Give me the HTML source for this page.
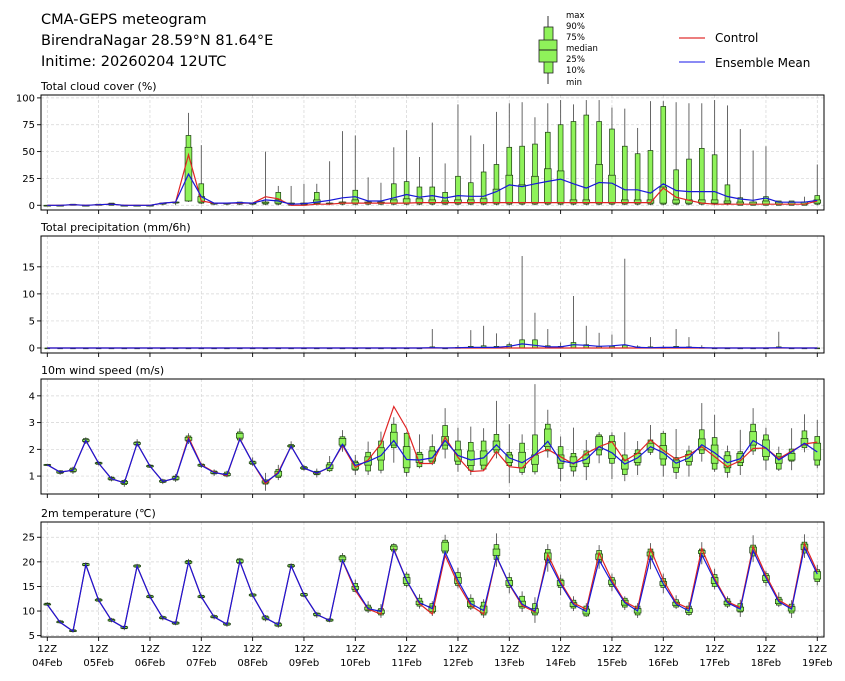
<!DOCTYPE html>
<html><head><meta charset="utf-8"><style>
body{margin:0;background:#fff;}
svg{display:block;font-family:"DejaVu Sans","Liberation Sans",sans-serif;}
</style></head><body>
<svg id="chart" width="845" height="681" viewBox="0 0 845 681" xmlns="http://www.w3.org/2000/svg">
<g>
<text x="41" y="24" font-size="14.5">CMA-GEPS meteogram</text>
<text x="41" y="45" font-size="14.5">BirendraNagar 28.59°N 81.64°E</text>
<text x="41" y="66" font-size="14.5">Initime: 20260204 12UTC</text>
</g>
<g>
<line x1="548" y1="16" x2="548" y2="84" stroke="#333" stroke-width="1"/>
<rect x="544" y="27" width="9" height="46" fill="#8ff25a" stroke="#222" stroke-width="0.8"/>
<rect x="539" y="40" width="18" height="22" fill="#8ff25a" stroke="#222" stroke-width="0.8"/>
<line x1="539" y1="50" x2="557" y2="50" stroke="#222" stroke-width="1"/>
<g font-size="8.5">
<text x="566" y="18">max</text><text x="566" y="29">90%</text><text x="566" y="40">75%</text><text x="566" y="51">median</text><text x="566" y="62">25%</text><text x="566" y="73">10%</text><text x="566" y="85">min</text>
</g>
</g>
<g>
<line x1="679" y1="38" x2="705" y2="38" stroke="#e03030" stroke-width="1.3"/>
<text x="715" y="42" font-size="12">Control</text>
<line x1="679" y1="62" x2="705" y2="62" stroke="#4444ee" stroke-width="1.3"/>
<text x="715" y="67" font-size="12">Ensemble Mean</text>
</g>
<g id="plots"></g>
</svg>
<script>
// ---- data ----
const dayLabels = ["04Feb","05Feb","06Feb","07Feb","08Feb","09Feb","10Feb","11Feb","12Feb","13Feb","14Feb","15Feb","16Feb","17Feb","18Feb","19Feb"];

const cloudMean = [0,0,0.5,0,0.5,1,0,0,0,2,3,29,8,2,2,2.5,2,5,4,1,1.5,3,4.5,7,8,4,4,7,10,7.5,9,6.8,9,8.4,8.4,12.7,19,17.4,20,22.2,24.4,20,16,21.2,20.6,14.4,14.4,11.3,20,13.8,12.7,12.7,12.7,8.2,5.8,4.6,6.8,2.9,2.9,2.9,4.6];
const cloudCtrl = [0,0,0.5,0,0.5,1,0,0,0,2,3,47,4,2,2,2,2,8,6,0,0,1,1,2,2,2,2,2,2,2.5,2.5,2.5,2.5,2.5,2.5,2.5,2.5,2.5,2.5,2.5,2.5,2.5,2.5,2.5,2.5,2.5,2.5,2.5,16,7.5,4.6,2,1,1,1,1,1,1,1,1,4];
const cloudP90 = [0,0,1,0,1,2,0,0,0,2,3,65,20,2,2,3,2,3,12,2,2,12,2,3,14,3,3,20,22,17,17,12,27,21,31,38,54,55,57,68,75,78,84,78,71,55,48,51,92,33,43,53,47,19,7,3,8,4,4,3,9];
const cloudP75 = [0,0,0.8,0,0.8,1.5,0,0,0,2,3,54,8,2,2,2.5,2,3,5,2,2,5,2,3,5,3,3,5,6,6,5,4,5,5,6,15,28,19,27,34,32,5,5,38,28,5,5,5,17,5,5,5,5,4,3,3,4,3,3,3,5];
const cloudP25 = [0,0,0.3,0,0.3,0.5,0,0,0,1.5,2.5,4,3,2,2,2,2,2,2,1,1,2,2,2,2,2,2,2,2,2,2,2,2,2,2,2,2,2,2,2,2,2,2,2,2,2,2,2,2,2,2,2,2,2,1,1,1,1,1,1,2];
const cloudP10 = [0,0,0,0,0,0,0,0,0,1,2,4,2,1,1,1,1,1,1,0,0,1,1,1,1,1,1,1,1,1,1,1,1,1,1,1,1,1,1,1,1,1,1,1,1,1,1,1,1,1,1,1,1,1,0,0,0,0,0,0,1];
const cloudMax = [0,0,1,0,1,2,0,0,0,2,3,86,56,2,2,3,2,50,18,18,20,20,41,69,65,26,21,54,70,45,77,39,94,65,57,87,95,96,82,95,98,94,98,98,91,90,72,97,97,96,95,95,98,93,71,51,55,4,4,8,38];
const cloudMin = [0,0,0,0,0,0,0,0,0,0,0,3,1,0,0,0,0,0,0,0,0,0,0,0,0,0,0,0,0,0,0,0,0,0,0,0,0,0,0,0,0,0,0,0,0,0,0,0,0,0,0,0,0,0,0,0,0,0,0,0,0];

const precMean = [0,0,0,0,0,0,0,0,0,0,0,0,0,0,0,0,0,0,0,0,0,0,0,0,0,0,0,0,0,0,0.05,0,0.05,0.1,0.1,0.1,0.3,0.75,0.5,0.2,0.2,0.6,0.5,0.3,0.4,0.6,0.1,0.05,0.1,0.1,0.1,0.05,0,0,0,0,0,0.05,0,0,0];
const precCtrl = [0,0,0,0,0,0,0,0,0,0,0,0,0,0,0,0,0,0,0,0,0,0,0,0,0,0,0,0,0,0,0,0,0,0,0,0,0,0,0,0,0,0,0,0,0,0,0,0,0,0,0,0,0,0,0,0,0,0,0,0,0];
const precP90 = [0,0,0,0,0,0,0,0,0,0,0,0,0,0,0,0,0,0,0,0,0,0,0,0,0,0,0,0,0,0,0.2,0,0.1,0.3,0.4,0.3,0.6,1.5,1.5,0.4,0.3,1.0,0.6,0.3,0.3,0.5,0.2,0.2,0.1,0.3,0.2,0.1,0,0,0,0,0,0.2,0,0,0];
const precMax = [0,0,0,0,0,0,0,0,0,0,0,0,0,0,0,0,0,0,0,0,0,0,0,0,0,0,0,0,0,0,3.5,0,0.5,3.3,4.1,2.7,1.0,17,6.5,3.5,1.0,9.6,4.1,2.8,2.5,16.5,0.5,2.0,0.5,3.5,2.0,0.5,0,0,0,0,0,3.0,0,0,0];

const windMean = [1.42,1.15,1.22,2.33,1.48,0.9,0.75,2.22,1.37,0.8,0.92,2.38,1.4,1.13,1.05,2.38,1.5,0.78,1.1,2.12,1.3,1.11,1.33,2.19,1.4,1.55,1.77,2.33,1.62,1.6,1.68,2.33,1.77,1.6,1.68,2.17,1.68,1.5,1.8,2.3,1.57,1.48,1.63,2.1,1.87,1.45,1.68,2.1,1.87,1.48,1.68,2.17,1.87,1.5,1.65,2.33,2.05,1.6,1.9,2.23,1.9];
const windCtrl = [1.42,1.15,1.22,2.33,1.48,0.9,0.75,2.22,1.37,0.8,0.92,2.45,1.42,1.15,1.02,2.4,1.5,0.72,1.15,2.12,1.3,1.1,1.33,2.15,1.32,1.6,2.21,3.6,2.78,1.47,1.47,2.45,1.7,1.17,1.2,1.92,1.35,1.3,1.8,2.0,1.72,1.45,1.85,2.1,2.28,1.57,1.85,2.35,1.96,1.63,1.8,2.1,1.73,1.35,1.57,2.03,2.05,1.65,1.93,2.2,2.27];
const windP10 = [1.40,1.10,1.15,2.27,1.44,0.85,0.68,2.16,1.33,0.76,0.85,2.3,1.36,1.08,1.0,2.35,1.44,0.7,0.95,2.08,1.25,1.05,1.2,2.1,1.22,1.19,1.22,2.06,1.14,1.35,1.48,2.01,1.44,1.22,1.26,1.89,1.39,1.14,1.16,1.94,1.29,1.19,1.35,1.79,1.48,1.06,1.41,1.89,1.41,1.14,1.41,1.85,1.26,1.14,1.39,1.94,1.6,1.26,1.56,2.06,1.41];
const windP25 = [1.41,1.12,1.18,2.3,1.46,0.88,0.72,2.19,1.35,0.78,0.88,2.34,1.38,1.1,1.02,2.42,1.47,0.74,1.0,2.1,1.28,1.08,1.28,2.16,1.26,1.41,1.6,2.16,1.31,1.51,1.56,2.16,1.56,1.39,1.41,1.98,1.51,1.31,1.44,2.1,1.48,1.35,1.48,1.98,1.66,1.26,1.51,1.98,1.64,1.31,1.54,1.98,1.48,1.31,1.51,2.16,1.73,1.48,1.6,2.16,1.6];
const windP75 = [1.43,1.18,1.26,2.36,1.5,0.93,0.8,2.25,1.39,0.83,0.97,2.45,1.43,1.16,1.1,2.6,1.53,0.82,1.18,2.15,1.33,1.15,1.42,2.41,1.5,1.72,2.06,2.64,2.1,1.81,1.94,2.48,1.98,1.94,1.94,2.31,1.79,1.89,1.79,2.76,1.79,1.72,1.79,2.48,2.29,1.6,1.85,2.23,2.14,1.6,1.81,2.39,2.16,1.76,1.85,2.66,2.35,1.72,1.85,2.41,2.23];
const windP90 = [1.44,1.2,1.3,2.4,1.52,0.96,0.84,2.28,1.41,0.86,1.0,2.5,1.45,1.19,1.15,2.65,1.56,0.86,1.25,2.18,1.36,1.18,1.5,2.47,1.56,1.89,2.31,2.94,2.6,1.89,2.1,2.89,2.31,2.26,2.31,2.56,1.89,2.23,2.54,2.94,2.1,1.85,1.94,2.54,2.51,1.79,1.98,2.35,2.6,1.69,1.94,2.73,2.44,1.91,1.91,2.94,2.54,1.85,2.01,2.69,2.48];
const windMin = [1.38,1.05,1.08,2.2,1.4,0.8,0.6,2.1,1.3,0.7,0.78,2.2,1.3,1.0,0.95,2.3,1.38,0.45,0.85,2.0,1.2,0.95,1.15,1.91,1.04,1.04,1.1,1.5,0.98,1.29,1.41,1.66,1.16,1.04,1.22,1.66,0.73,1.04,1.06,1.69,0.81,0.98,0.85,1.48,0.89,0.81,1.04,1.79,0.98,0.89,0.98,1.54,1.16,0.94,1.04,1.79,1.22,1.19,1.22,1.89,1.29];
const windMax = [1.46,1.22,1.35,2.45,1.55,1.0,0.88,2.38,1.45,0.9,1.08,2.6,1.5,1.25,1.2,2.78,1.7,1.12,1.42,2.3,1.42,1.28,1.75,2.72,1.79,2.29,2.66,3.2,2.64,2.56,2.56,3.54,2.81,2.85,2.79,3.81,2.94,2.56,4.44,3.48,2.48,2.81,2.35,2.64,2.64,2.64,2.31,2.91,2.69,2.76,2.14,3.73,3.29,2.14,2.73,3.54,2.81,2.1,2.79,3.31,3.1];

const tempMean = [11.3,7.7,5.9,19.4,12.2,8.1,6.6,19.1,12.9,8.6,7.5,19.9,12.9,8.8,7.3,20.1,13.2,8.6,7.2,19.2,13.3,9.3,8.1,20.3,14.6,10.5,9.9,22.4,16.2,11.7,10.5,22.0,16.2,11.5,10.1,21.1,15.5,11.4,10.0,20.6,15.5,11.3,9.9,20.4,15.7,11.7,10.0,21.0,15.5,11.4,10.0,21.5,16.2,11.7,10.4,22.3,16.8,11.9,10.4,22.9,17.5];
const tempCtrl = [11.3,7.7,5.9,19.4,12.2,8.1,6.6,19.1,12.9,8.6,7.5,19.9,12.9,8.8,7.3,20.1,13.2,8.6,7.2,19.2,13.3,9.3,8.1,20.2,14.2,10.4,9.4,22.6,16.2,11.5,9.4,21.3,15.5,11.1,9.4,21.0,15.4,11.1,9.8,21.5,15.9,11.6,10.4,21.8,16.2,11.9,10.5,22.7,16.3,11.7,10.5,22.7,16.6,11.9,10.7,23.1,17.3,12.2,10.7,23.7,18.0];
const tempP10 = [11.2,7.6,5.8,19.2,12.0,7.9,6.4,18.9,12.7,8.4,7.3,19.6,12.7,8.6,7.1,19.7,13.0,8.2,6.9,18.9,13.0,9.0,7.9,20.0,14.0,10.0,9.2,22.2,15.2,11.0,9.6,21.8,15.2,10.6,9.2,20.5,14.8,10.6,9.2,19.8,14.8,10.6,9.0,19.8,15.0,10.8,9.2,20.5,14.8,10.8,9.3,21.0,15.0,11.0,9.8,21.2,15.8,11.2,9.6,21.8,16.0];
const tempP25 = [11.25,7.65,5.85,19.3,12.1,8.0,6.5,19.0,12.8,8.5,7.4,19.75,12.8,8.7,7.2,19.9,13.1,8.4,7.0,19.05,13.15,9.15,8.0,20.4,14.4,10.2,9.5,22.5,15.6,11.3,9.9,22.2,15.6,10.9,9.6,21.3,15.2,10.9,9.6,20.4,15.2,10.9,9.4,20.5,15.4,11.2,9.6,21.2,15.2,11.1,9.7,21.7,15.6,11.3,10.0,21.8,16.2,11.5,10.0,22.5,16.5];
const tempP75 = [11.45,7.85,6.05,19.6,12.35,8.25,6.8,19.3,13.05,8.75,7.7,20.1,13.05,8.95,7.5,20.4,13.4,8.8,7.4,19.35,13.5,9.5,8.3,21.0,15.0,10.8,10.2,23.2,16.8,12.0,11.0,24.0,16.8,12.0,11.0,22.6,16.2,12.0,10.5,21.8,16.2,11.7,10.4,21.6,16.3,12.2,10.5,22.0,16.0,11.8,10.5,22.3,16.8,12.0,10.8,23.0,17.2,12.4,10.9,23.6,18.0];
const tempP90 = [11.6,8.0,6.2,19.7,12.5,8.4,6.9,19.4,13.2,8.9,7.8,20.3,13.2,9.1,7.6,20.6,13.5,9.0,7.6,19.5,13.6,9.6,8.4,21.3,15.6,11.2,10.5,23.5,17.5,12.6,11.5,24.4,17.8,12.6,11.8,23.5,16.8,13.0,11.5,22.5,16.5,12.2,11.0,22.3,16.8,12.6,11.0,22.6,16.6,12.3,11.0,22.6,17.4,12.5,11.5,23.4,17.6,12.8,11.4,24.0,18.4];
const tempMin = [11.0,7.4,5.6,19.0,11.8,7.7,6.1,18.7,12.5,8.1,7.1,19.4,12.5,8.3,6.8,19.5,12.8,7.9,6.6,18.8,12.8,8.6,7.7,19.8,13.8,9.6,8.6,22.0,14.8,10.5,9.0,21.4,14.6,10.2,8.6,19.0,13.6,9.8,7.6,18.0,13.2,10.0,8.8,18.6,14.0,10.2,8.6,18.5,13.6,10.4,9.0,19.5,14.4,10.6,8.8,20.0,15.0,10.8,8.6,20.8,15.2];
const tempMax = [11.8,8.2,6.4,19.9,12.7,8.6,7.1,19.6,13.4,9.1,8.0,20.6,13.4,9.3,7.8,20.8,13.7,9.2,7.8,19.7,13.8,9.8,8.6,21.8,16.4,12.0,11.4,23.8,18.0,13.4,12.0,25.5,18.8,13.4,12.4,25.8,17.8,14.0,12.8,23.6,17.4,13.0,11.6,23.4,17.6,13.0,11.6,23.8,17.6,13.2,11.8,24.0,18.6,13.0,12.3,25.4,18.2,13.8,12.2,25.6,19.4];

const cloudTicks = [0,25,50,75,100];
const precTicks = [0,5,10,15];
const windTicks = [1,2,3,4];
const tempTicks = [5,10,15,20,25];

// ---- drawing ----
const NS = "http://www.w3.org/2000/svg";
const plots = document.getElementById("plots");
const X0 = 41, X1 = 824;
function xPos(i){ return 47.3 + i * 12.833; }
function mk(tag, attrs, parent){
  const e = document.createElementNS(NS, tag);
  for (const k in attrs) e.setAttribute(k, attrs[k]);
  (parent || plots).appendChild(e);
  return e;
}
function makeY(top, bottom, vTop, vBot){
  return v => bottom - (v - vBot) / (vTop - vBot) * (bottom - top);
}

function panel(cfg){
  const g = mk("g", {});
  
  
  const y = makeY(cfg.top, cfg.bottom, cfg.vTop, cfg.vBot);
  const t = mk("text", {x: 41, y: cfg.top - 5, "font-size": 11}, g);
  t.textContent = cfg.title;
  
  
  for (let k = 0; k < dayLabels.length; k++){
    const gx = xPos(k * 4);
    mk("line", {x1: gx, x2: gx, y1: cfg.top, y2: cfg.bottom, stroke: "#d4d4d4", "stroke-width": 0.7, "stroke-dasharray": "3,2"}, g);
    mk("line", {x1: gx, x2: gx, y1: cfg.bottom, y2: cfg.bottom + 4, stroke: "#000", "stroke-width": 0.9}, g);
    if (cfg.labels){
      const l1 = mk("text", {x: gx, y: cfg.bottom + 15, "font-size": 10, "text-anchor": "middle"}, g);
      l1.textContent = "12Z";
      
      
      const l2 = mk("text", {x: gx, y: cfg.bottom + 29, "font-size": 10, "text-anchor": "middle"}, g);
      l2.textContent = dayLabels[k];
      
      
    }
  }
  cfg.ticks.forEach(v => {
    const yy = y(v);
    mk("line", {x1: X0, x2: X1, y1: yy, y2: yy, stroke: "#d4d4d4", "stroke-width": 0.7, "stroke-dasharray": "3,2"}, g);
    mk("line", {x1: X0 - 4, x2: X0, y1: yy, y2: yy, stroke: "#000", "stroke-width": 0.9}, g);
    const tl = mk("text", {x: X0 - 6, y: yy + 3.5, "font-size": 10, "text-anchor": "end"}, g);
    tl.textContent = v;
    
    
  });
  const n = cfg.mean.length;
  for (let i = 0; i < n; i++){
    const cx = xPos(i);
    if (cfg.max){
      const wl = mk("line", {x1: cx, x2: cx, y1: y(cfg.max[i]), y2: y(cfg.min ? cfg.min[i] : 0), stroke: "#555", "stroke-width": 0.9}, g);
      
      
    }
    if (cfg.p90){
      const lo = cfg.p10 ? cfg.p10[i] : 0;
      const h = Math.max(0.8, y(lo) - y(cfg.p90[i]));
      const r = mk("rect", {x: cx - 2.4, y: y(cfg.p90[i]), width: 4.8, height: h, fill: "#8ff25a", stroke: "#1a3a10", "stroke-width": 0.7}, g);
      
      
    }
    if (cfg.p75){
      const lo = cfg.p25 ? cfg.p25[i] : 0;
      const h = Math.max(0.8, y(lo) - y(cfg.p75[i]));
      const r = mk("rect", {x: cx - 3.4, y: y(cfg.p75[i]), width: 6.8, height: h, fill: "#8ff25a", stroke: "#1a3a10", "stroke-width": 0.7}, g);
      
      
    }
  }
  const ptsC = cfg.ctrl.map((v, i) => xPos(i).toFixed(1) + "," + y(v).toFixed(1)).join(" ");
  const pc = mk("polyline", {points: ptsC, fill: "none", stroke: "#e02424", "stroke-width": 1.2}, g);
  
  
  const ptsM = cfg.mean.map((v, i) => xPos(i).toFixed(1) + "," + y(v).toFixed(1)).join(" ");
  const pm = mk("polyline", {points: ptsM, fill: "none", stroke: "#1818d8", "stroke-width": 1.2}, g);
  
  
  const fr = mk("rect", {x: X0, y: cfg.top, width: X1 - X0, height: cfg.bottom - cfg.top, fill: "none", stroke: "#000", "stroke-width": 1}, g);
  
  
}

panel({name: "cloud-cover", title: "Total cloud cover (%)", top: 95, bottom: 210, vTop: 102.7, vBot: -4.4, ticks: cloudTicks,
  mean: cloudMean, ctrl: cloudCtrl, p10: cloudP10, p25: cloudP25, p75: cloudP75, p90: cloudP90, min: cloudMin, max: cloudMax});
panel({name: "precipitation", title: "Total precipitation (mm/6h)", top: 236, bottom: 353, vTop: 20.7, vBot: -0.93, ticks: precTicks,
  mean: precMean, ctrl: precCtrl, p90: precP90, max: precMax});
panel({name: "wind-speed", title: "10m wind speed (m/s)", top: 379, bottom: 494, vTop: 4.63, vBot: 0.33, ticks: windTicks,
  mean: windMean, ctrl: windCtrl, p10: windP10, p25: windP25, p75: windP75, p90: windP90, min: windMin, max: windMax});
panel({name: "temperature", title: "2m temperature (℃)", top: 522, bottom: 637, vTop: 28.1, vBot: 4.72, ticks: tempTicks, labels: true,
  mean: tempMean, ctrl: tempCtrl, p10: tempP10, p25: tempP25, p75: tempP75, p90: tempP90, min: tempMin, max: tempMax});
</script>
</body></html>
